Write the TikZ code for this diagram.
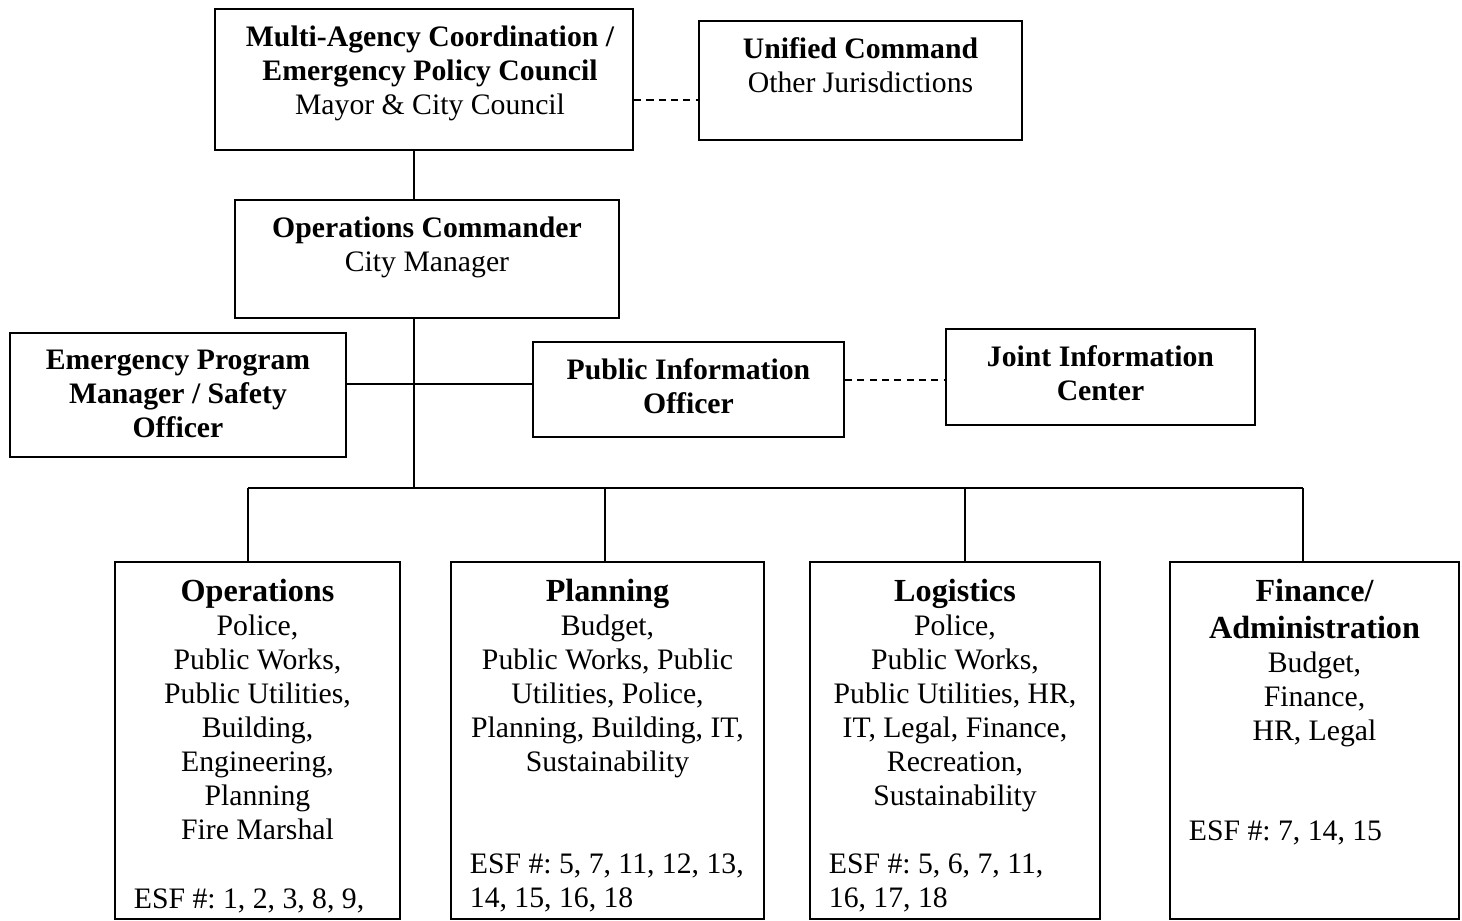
\documentclass[tikz,border=0pt]{standalone}
\usepackage{fontspec}
\setmainfont{Liberation Serif}
\usetikzlibrary{calc}
\frenchspacing
\newcommand{\orgtext}[3]{\parbox[c][#2][t]{#1}{\centering\vspace*{0.17cm}#3}}
\newcommand{\orghead}[1]{{\fontsize{9.15pt}{10.5pt}\selectfont\bfseries #1\par}}
\newcommand{\orgesf}[2]{\par\vspace{#1}\raggedright\leftskip=0.19cm #2\par}
\tikzset{
    orgbox/.style={draw, line width=0.6pt, inner sep=0pt},
    link/.style={line width=0.6pt},
    dashlink/.style={line width=0.6pt, dash pattern=on 2pt off 1.5pt}
}

\begin{document}
\begin{tikzpicture}[x=0.01cm, y=-0.01cm, font=\fontsize{8.45pt}{9.67pt}\selectfont]
    \useasboundingbox (0,0) rectangle (1462,921);

    \node[orgbox] (mac) at (424, 79.5) {\orgtext{4.18cm}{1.41cm}{\hspace*{0.12cm}\textbf{Multi-Agency Coordination /\\ \hspace*{0.12cm}Emergency Policy Council}\\ \hspace*{0.12cm}Mayor \& City Council}};
    \node[orgbox] (uc) at (860.5, 80.5) {\orgtext{3.23cm}{1.19cm}{\textbf{Unified Command}\\ Other Jurisdictions}};
    \node[orgbox] (opsc) at (427, 259) {\orgtext{3.84cm}{1.18cm}{\textbf{Operations Commander}\\ City Manager}};
    \node[orgbox] (epm) at (178, 395) {\orgtext{3.36cm}{1.24cm}{\bfseries Emergency Program\\ Manager / Safety\\ Officer}};
    \node[orgbox] (pio) at (688.5, 389.5) {\orgtext{3.11cm}{0.95cm}{\bfseries Public Information\\ Officer}};
    \node[orgbox] (jic) at (1100.5, 377) {\orgtext{3.09cm}{0.96cm}{\bfseries Joint Information\\ Center}};

    \node[orgbox] (ops) at (257.5, 740.5) {\orgtext{2.85cm}{3.57cm}{\orghead{Operations}
        Police,\\ Public Works,\\ Public Utilities,\\ Building,\\ Engineering,\\ Planning\\ Fire Marshal
        \orgesf{0.35cm}{ESF \#: 1, 2, 3, 8, 9,}}};
    \node[orgbox] (plan) at (607.5, 740.5) {\orgtext{3.13cm}{3.57cm}{\orghead{Planning}
        Budget,\\ Public Works, Public\\ Utilities, Police,\\ Planning, Building, IT,\\ Sustainability
        \orgesf{0.68cm}{ESF \#: 5, 7, 11, 12, 13,\\ 14, 15, 16, 18}}};
    \node[orgbox] (logi) at (955, 740.5) {\orgtext{2.90cm}{3.57cm}{\orghead{Logistics}
        Police,\\ Public Works,\\ Public Utilities, HR,\\ IT, Legal, Finance,\\ Recreation,\\ Sustainability
        \orgesf{0.34cm}{ESF \#: 5, 6, 7, 11,\\ 16, 17, 18}}};
    \node[orgbox] (fin) at (1314.5, 740.5) {\orgtext{2.89cm}{3.57cm}{\orghead{Finance/\\ Administration}
        Budget,\\ Finance,\\ HR, Legal
        \orgesf{0.66cm}{ESF \#: 7, 14, 15}}};

    \coordinate (trunk) at (414, 488);
    \coordinate (staff) at (414, 384);
    \coordinate (uclink) at (666, 100);
    \coordinate (jiclink) at (895, 380);
    \coordinate (d1) at (248, 488);
    \coordinate (d2) at (605, 488);
    \coordinate (d3) at (965, 488);
    \coordinate (d4) at (1303, 488);

    \draw[link] (mac.south -| trunk) -- (opsc.north -| trunk);
    \draw[link] (opsc.south -| trunk) -- (trunk);
    \draw[link] (epm.east |- staff) -- (pio.west |- staff);
    \draw[dashlink] (mac.east |- uclink) -- (uc.west |- uclink);
    \draw[dashlink] (pio.east |- jiclink) -- (jic.west |- jiclink);
    \draw[link] (d1) -- (d4);
    \foreach \d/\b in {d1/ops, d2/plan, d3/logi, d4/fin}
        \draw[link] (\d) -- (\b.north -| \d);
\end{tikzpicture}
\end{document}
